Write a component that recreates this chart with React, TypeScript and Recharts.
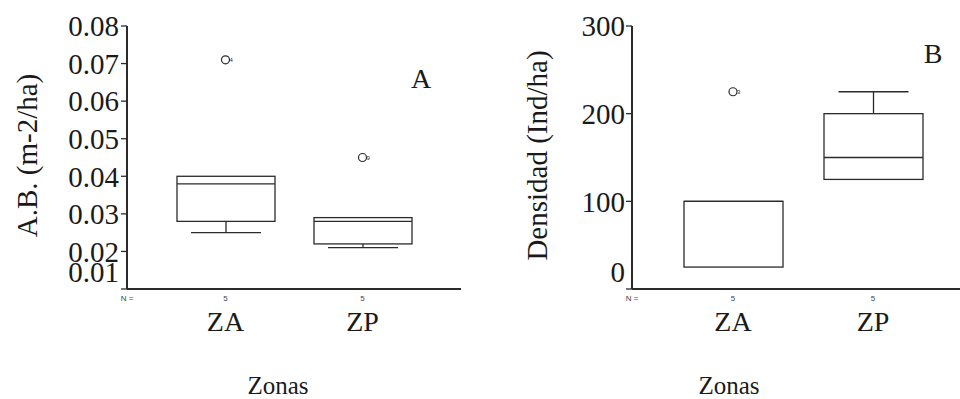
import { ComposedChart, Bar, Scatter, XAxis, YAxis } from "recharts";

const zonas = ["ZA", "ZP"];
const casos = [5, 5];

// Panel A: área basal (m-2/ha)
const abMin = [0.025, 0.021];
const abQ1 = [0.028, 0.022];
const abMediana = [0.038, 0.028];
const abQ3 = [0.04, 0.029];
const abMax = [0.04, 0.029];
const abAtipicos = [
  { zona: "ZA", valor: 0.071, caso: "4" },
  { zona: "ZP", valor: 0.045, caso: "9" },
];
const abTicks = [0.01, 0.02, 0.03, 0.04, 0.05, 0.06, 0.07, 0.08];

// Panel B: densidad (Ind/ha)
const denMin = [25, 125];
const denQ1 = [25, 125];
const denMediana = [100, 150];
const denQ3 = [100, 200];
const denMax = [100, 225];
const denAtipicos = [{ zona: "ZA", valor: 225, caso: "3" }];
const denTicks = [0, 100, 200, 300];

const SERIF = '"Liberation Serif", "Times New Roman", serif';
const SANS = '"Liberation Sans", Arial, sans-serif';
const INK = "#2b2b2b";
const TEXT = "#1a1a1a";

function toRows(min: number[], q1: number[], med: number[], q3: number[], max: number[]) {
  return zonas.map((zona, i) => ({
    zona,
    n: casos[i],
    min: min[i],
    q1: q1[i],
    mediana: med[i],
    q3: q3[i],
    max: max[i],
  }));
}

// box drawn from the ranged bar [q1, q3]; whiskers/median use the same pixel scale
function BoxShape(props: any) {
  const d = props.payload ?? props;
  const { x, width } = props;
  const top = Math.min(props.y, props.y + props.height);
  const bottom = Math.max(props.y, props.y + props.height);
  const k = (bottom - top) / (d.q3 - d.q1);
  const toY = (v: number) => bottom - (v - d.q1) * k;
  const cx = x + width / 2;
  const cap = 35;
  const yMin = toY(d.min);
  const yMax = toY(d.max);
  const yMed = toY(d.mediana);
  return (
    <g stroke={INK} strokeWidth={1.3} fill="none">
      {d.max > d.q3 && (
        <>
          <line x1={cx} x2={cx} y1={top} y2={yMax} />
          <line x1={cx - cap} x2={cx + cap} y1={yMax} y2={yMax} />
        </>
      )}
      {d.min < d.q1 && (
        <>
          <line x1={cx} x2={cx} y1={bottom} y2={yMin} />
          <line x1={cx - cap} x2={cx + cap} y1={yMin} y2={yMin} />
        </>
      )}
      <rect x={x} y={top} width={width} height={bottom - top} fill="#fff" />
      <line x1={x} x2={x + width} y1={yMed} y2={yMed} />
    </g>
  );
}

function Atipico(props: any) {
  const { cx, cy, payload } = props;
  return (
    <g>
      <circle cx={cx} cy={cy} r={4} fill="#fff" stroke={INK} strokeWidth={1.2} />
      <text x={cx + 4} y={cy} dy="0.35em" fontSize={6} fontFamily={SANS} fill={INK}>
        {payload.caso}
      </text>
    </g>
  );
}

function ZonaTick(props: any) {
  const { x, y, payload } = props;
  const n = casos[zonas.indexOf(payload.value)];
  return (
    <g>
      <text x={x} y={y + 12} textAnchor="middle" fontSize={8} fontFamily={SANS} fill="#444">
        {n}
      </text>
      <text x={x} y={y + 42} textAnchor="middle" fontSize={28} fontFamily={SERIF} fill={TEXT}>
        {payload.value}
      </text>
    </g>
  );
}

const makeYTick = (format: (v: number) => string, lowest: number) => (props: any) => {
  const { x, y, payload } = props;
  const shift = payload.value === lowest ? -17 : 0;
  return (
    <text x={x} y={y + shift} dy="0.355em" textAnchor="end" fontSize={29} fontFamily={SERIF} fill={TEXT}>
      {format(payload.value)}
    </text>
  );
};

function YTitle({ viewBox, text, cx }: any) {
  const cy = viewBox.y + viewBox.height / 2 - 2;
  return (
    <text
      x={cx}
      y={cy}
      transform={`rotate(-90, ${cx}, ${cy})`}
      textAnchor="middle"
      dominantBaseline="central"
      fontSize={29}
      fontFamily={SERIF}
      fill={TEXT}
    >
      {text}
    </text>
  );
}

function AxisNotes({ viewBox, zonasX, letter, letterX, letterY }: any) {
  return (
    <g>
      <text x={viewBox.x} y={viewBox.y + 12} textAnchor="middle" fontSize={8} fontFamily={SANS} fill="#444">
        N =
      </text>
      <text x={zonasX} y={394} textAnchor="middle" fontSize={25} fontFamily={SERIF} fill={TEXT}>
        Zonas
      </text>
      <text x={letterX} y={letterY} textAnchor="middle" dominantBaseline="central" fontSize={28} fontFamily={SERIF} fill={TEXT}>
        {letter}
      </text>
    </g>
  );
}

function Panel({
  rows, atipicos, ticks, format, yTitle, titleX, letter, letterX, letterY, zonasX,
  width, yAxisWidth, marginRight, pad, barSize, tickMargin,
}: any) {
  const domain = [ticks[0], ticks[ticks.length - 1]];
  return (
    <ComposedChart
      width={width}
      height={399}
      data={rows}
      margin={{ top: 26, right: marginRight, left: 0, bottom: 0 }}
    >
      <XAxis
        dataKey="zona"
        allowDuplicatedCategory={false}
        height={110}
        padding={{ left: pad, right: pad }}
        tickSize={0}
        tickMargin={0}
        tick={<ZonaTick />}
        axisLine={{ stroke: INK, strokeWidth: 2 }}
        label={<AxisNotes zonasX={zonasX} letter={letter} letterX={letterX} letterY={letterY} />}
      />
      <XAxis
        xAxisId="top"
        orientation="top"
        dataKey="zona"
        allowDuplicatedCategory={false}
        height={0}
        tick={false}
        tickLine={false}
        axisLine={{ stroke: INK, strokeWidth: 1.3 }}
      />
      <YAxis
        type="number"
        domain={domain}
        ticks={ticks}
        interval={0}
        width={yAxisWidth}
        tickSize={6}
        tickMargin={tickMargin}
        tickLine={{ stroke: INK, strokeWidth: 1.3 }}
        axisLine={{ stroke: INK, strokeWidth: 2 }}
        tick={makeYTick(format, ticks[0])}
        label={<YTitle text={yTitle} cx={titleX} />}
      />
      <YAxis
        yAxisId="right"
        orientation="right"
        type="number"
        domain={domain}
        width={0}
        tick={false}
        tickLine={false}
        axisLine={{ stroke: INK, strokeWidth: 1.3 }}
      />
      <Bar
        dataKey={(d: any) => [d.q1, d.q3]}
        barSize={barSize}
        shape={<BoxShape />}
        isAnimationActive={false}
      />
      <Scatter data={atipicos} dataKey="valor" shape={<Atipico />} isAnimationActive={false} />
    </ComposedChart>
  );
}

export default function App() {
  const rowsA = toRows(abMin, abQ1, abMediana, abQ3, abMax);
  const rowsB = toRows(denMin, denQ1, denMediana, denQ3, denMax);
  return (
    <div
      style={{
        position: "absolute",
        left: 0,
        top: 0,
        width: 960,
        height: 399,
        overflow: "hidden",
        background: "#fff",
      }}
    >
      <div style={{ position: "absolute", left: 0, top: 0 }}>
        <Panel
          rows={rowsA}
          atipicos={abAtipicos}
          ticks={abTicks}
          format={(v: number) => v.toFixed(2)}
          yTitle="A.B. (m-2/ha)"
          titleX={27}
          letter="A"
          letterX={421}
          letterY={78}
          zonasX={278}
          width={480}
          yAxisWidth={127}
          marginRight={19}
          pad={30}
          barSize={98}
          tickMargin={2}
        />
      </div>
      <div style={{ position: "absolute", left: 480, top: 0 }}>
        <Panel
          rows={rowsB}
          atipicos={denAtipicos}
          ticks={denTicks}
          format={(v: number) => String(v)}
          yTitle="Densidad (Ind/ha)"
          titleX={57}
          letter="B"
          letterX={453}
          letterY={53}
          zonasX={249}
          width={500}
          yAxisWidth={152}
          marginRight={6}
          pad={31}
          barSize={99}
          tickMargin={1}
        />
      </div>
    </div>
  );
}
